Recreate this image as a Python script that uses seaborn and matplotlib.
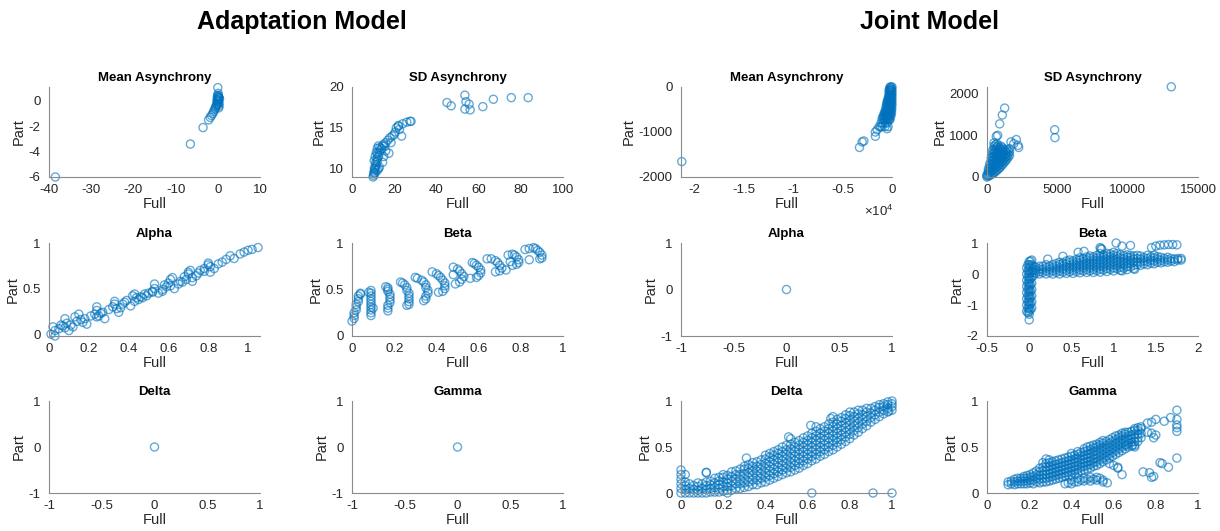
import numpy as np
import pandas as pd
import matplotlib
matplotlib.use("Agg")
import matplotlib.pyplot as plt
from matplotlib.ticker import FuncFormatter
import seaborn as sns

# ---------------- data ----------------
mean_async_adapt = [(-38.5, -6.0), (-6.5, -3.4), (-3.5, -2.1), (-2.2, -1.5), (-1.8, -1.3),
                    (-1.5, -1.15), (-1.2, -1.0), (-1.0, -0.85), (-0.8, -0.7), (-0.6, -0.6),
                    (-0.5, -0.5), (-0.4, -0.4), (-0.3, -0.3), (-0.2, -0.2), (-0.1, 0.0),
                    (0.0, 0.1), (0.1, 0.2), (0.2, 0.3), (0.3, 0.25), (0.4, 0.15), (0.0, 1.05),
                    (0.1, 0.6), (-0.1, 0.35), (0.2, 0.0), (0.3, -0.2), (0.0, -0.3), (0.1, 0.4),
                    (0.2, 0.3), (-0.2, 0.1), (0.3, -0.4), (0.0, 0.45), (0.1, -0.1), (0.2, -0.55)]

sd_async_adapt = [(10, 9.0), (10.2, 9.2), (10.5, 9.4), (10.3, 9.6), (10.8, 9.8), (11, 10), (10.6, 10.1),
                  (11.2, 10.3), (11.5, 10.5), (11.3, 10.8), (12, 10.9), (11.8, 11.2), (12.3, 11.4),
                  (12.6, 11.6), (12, 11.9), (13, 12), (13.5, 12.3), (14, 12.5), (13.2, 12.6),
                  (14.5, 12.8), (15, 13), (16, 13.2), (17, 13.5), (18, 13.8), (19, 14), (20, 14.2),
                  (21, 15), (22, 15.2), (22.5, 14.8), (23.5, 14), (24, 15.5), (26, 15.7), (27.5, 15.8),
                  (28, 15.8), (17.5, 11.9), (15, 11.5), (14.5, 10.8), (13, 10.2), (12.5, 10.0),
                  (11, 9.5), (12, 9.8), (16, 12.2), (18.5, 13.2), (15.5, 12.8), (10.5, 11),
                  (11, 11.5), (11.5, 12), (12, 12.5), (12.5, 12.8), (20.5, 14.5), (22, 15.3),
                  (45, 18.1), (47, 17.7), (53.5, 19), (54, 18.2), (53.5, 17.3), (55.5, 17.9),
                  (56, 17.2), (62, 17.6), (67, 18.5), (75.5, 18.7), (83.5, 18.7)]

alpha_adapt = [(0.01, 0.00), (0.02, 0.08), (0.03, -0.02), (0.03, 0.04), (0.05, 0.06), (0.07, 0.09),
               (0.08, 0.17), (0.08, 0.07), (0.09, 0.12), (0.10, 0.04), (0.11, 0.10), (0.12, 0.08),
               (0.13, 0.19), (0.14, 0.14), (0.15, 0.22), (0.17, 0.13), (0.18, 0.17), (0.19, 0.11),
               (0.21, 0.20), (0.23, 0.22), (0.24, 0.30), (0.24, 0.26), (0.24, 0.19), (0.25, 0.20),
               (0.27, 0.24), (0.28, 0.17), (0.30, 0.27), (0.32, 0.30), (0.33, 0.36), (0.33, 0.33),
               (0.34, 0.28), (0.35, 0.24), (0.36, 0.29), (0.37, 0.33), (0.39, 0.37), (0.41, 0.31),
               (0.42, 0.42), (0.43, 0.44), (0.43, 0.36), (0.44, 0.40), (0.45, 0.38), (0.46, 0.41),
               (0.47, 0.40), (0.49, 0.42), (0.50, 0.45), (0.52, 0.47), (0.52, 0.46), (0.53, 0.55),
               (0.53, 0.50), (0.55, 0.45), (0.57, 0.49), (0.57, 0.47), (0.59, 0.52), (0.60, 0.56),
               (0.61, 0.60), (0.61, 0.53), (0.62, 0.62), (0.63, 0.50), (0.65, 0.55), (0.66, 0.58),
               (0.67, 0.57), (0.69, 0.60), (0.70, 0.68), (0.70, 0.66), (0.71, 0.70), (0.72, 0.62),
               (0.72, 0.58), (0.74, 0.64), (0.75, 0.67), (0.76, 0.70), (0.78, 0.72), (0.80, 0.78),
               (0.80, 0.76), (0.81, 0.74), (0.81, 0.68), (0.83, 0.72), (0.85, 0.77), (0.87, 0.79),
               (0.89, 0.82), (0.91, 0.86), (0.93, 0.83), (0.96, 0.88), (0.98, 0.90), (1.00, 0.92),
               (1.02, 0.93), (1.05, 0.95), (0.06, 0.10), (0.16, 0.16), (0.26, 0.23), (0.38, 0.35),
               (0.48, 0.44), (0.58, 0.54), (0.68, 0.63), (0.78, 0.69)]

beta_adapt = [(0.00, 0.16), (0.01, 0.19), (0.01, 0.22), (0.01, 0.25), (0.02, 0.28), (0.02, 0.31),
              (0.02, 0.34), (0.03, 0.37), (0.03, 0.40), (0.03, 0.43), (0.04, 0.45), (0.04, 0.46),
              (0.09, 0.22), (0.09, 0.25), (0.09, 0.28), (0.09, 0.31), (0.09, 0.34), (0.09, 0.37),
              (0.09, 0.40), (0.09, 0.43), (0.09, 0.46), (0.09, 0.49), (0.08, 0.47), (0.10, 0.30),
              (0.17, 0.27), (0.17, 0.30), (0.17, 0.33), (0.18, 0.36), (0.18, 0.39), (0.18, 0.42),
              (0.18, 0.45), (0.17, 0.48), (0.17, 0.50), (0.16, 0.53), (0.17, 0.52),
              (0.23, 0.58), (0.24, 0.57), (0.25, 0.55), (0.26, 0.52), (0.26, 0.49), (0.27, 0.46),
              (0.27, 0.43), (0.27, 0.40), (0.27, 0.37), (0.27, 0.34), (0.26, 0.33),
              (0.30, 0.63), (0.31, 0.62), (0.33, 0.60), (0.34, 0.58), (0.35, 0.55), (0.35, 0.52),
              (0.36, 0.49), (0.36, 0.46), (0.35, 0.43), (0.35, 0.40), (0.34, 0.38),
              (0.38, 0.69), (0.40, 0.67), (0.41, 0.65), (0.42, 0.63), (0.43, 0.60), (0.44, 0.57),
              (0.44, 0.54), (0.44, 0.51), (0.43, 0.48), (0.41, 0.47),
              (0.48, 0.74), (0.50, 0.72), (0.51, 0.70), (0.52, 0.67), (0.53, 0.64), (0.52, 0.61),
              (0.51, 0.58), (0.49, 0.56), (0.48, 0.66),
              (0.57, 0.79), (0.58, 0.78), (0.59, 0.76), (0.60, 0.74), (0.61, 0.71), (0.61, 0.68),
              (0.60, 0.65), (0.59, 0.63), (0.56, 0.62),
              (0.64, 0.83), (0.66, 0.83), (0.68, 0.81), (0.69, 0.79), (0.70, 0.76), (0.71, 0.73),
              (0.70, 0.70), (0.68, 0.69),
              (0.74, 0.87), (0.76, 0.88), (0.77, 0.87), (0.78, 0.85), (0.79, 0.82), (0.79, 0.79),
              (0.78, 0.77), (0.76, 0.76), (0.73, 0.71), (0.75, 0.80),
              (0.82, 0.93), (0.84, 0.94), (0.86, 0.95), (0.87, 0.94), (0.88, 0.92), (0.89, 0.90),
              (0.90, 0.87), (0.90, 0.84), (0.89, 0.83), (0.84, 0.82)]

delta_adapt = [(0.0, 0.0)]
gamma_adapt = [(0.0, 0.0)]

# Joint model: dense clouds given as (Part level, [Full values]) or (Full, [Part values]) columns
mean_async_joint_rows = [(0, [0, -100, -200]), (-40, [-50, -150, -250]),
                         (-80, [0, -100, -200, -300]), (-120, [-50, -150, -250]),
                         (-160, [0, -100, -200, -300]), (-200, [-60, -180, -300]),
                         (-240, [0, -120, -240, -360]), (-280, [-60, -190, -320, -420]),
                         (-320, [0, -130, -260, -390, -480]), (-360, [-70, -210, -350, -500]),
                         (-400, [0, -150, -300, -450, -560]), (-440, [-80, -230, -380, -550]),
                         (-480, [-20, -170, -320, -470, -640]), (-520, [-100, -260, -420, -580]),
                         (-560, [-50, -200, -350, -500, -650, -760]),
                         (-600, [-120, -280, -450, -620, -780]),
                         (-640, [-100, -250, -400, -550, -700, -880]),
                         (-680, [-280, -450, -620, -800, -950]),
                         (-720, [-200, -350, -500, -650, -800, -1000]),
                         (-800, [-500, -700, -900, -1100]), (-880, [-400, -700, -1000])]
mean_async_joint_sparse = [(-1300, -880), (-1500, -950), (-1680, -1000), (-1680, -1095),
                           (-2850, -1200), (-3020, -1220), (-3290, -1343), (-21270, -1657),
                           (-500, -927), (-270, -730), (-1170, -890)]

sd_async_joint_cols = [(0, [0, 30, 60]), (100, [20, 80, 140, 200]), (200, [40, 110, 180, 250, 320]),
                       (300, [60, 140, 220, 300, 380, 460]),
                       (400, [80, 160, 240, 320, 400, 480, 560, 640]),
                       (500, [100, 180, 260, 340, 420, 500, 580, 660, 740, 820]),
                       (600, [130, 210, 290, 370, 450, 530, 610, 690, 770]),
                       (700, [160, 240, 320, 400, 480, 560, 640, 720, 800]),
                       (800, [190, 270, 350, 430, 510, 590, 670, 750]),
                       (900, [220, 300, 380, 460, 540, 620, 700]),
                       (1000, [260, 340, 420, 500, 580, 660, 740]),
                       (1100, [300, 380, 460, 540, 620, 700]), (1200, [340, 420, 500, 580, 660]),
                       (1300, [380, 460, 540, 620]), (1400, [420, 500, 580, 660]),
                       (1500, [470, 550, 630]), (1600, [520, 600, 680])]
sd_async_joint_sparse = [(1256, 1654), (1090, 1488), (900, 1275), (758, 1000), (663, 976),
                         (2085, 898), (2251, 709), (1706, 843), (1900, 800), (2200, 760),
                         (4810, 1134), (4830, 945), (13100, 2165)]

alpha_joint = [(0.0, 0.0)]

beta_joint_cols = [(-0.03, [-1.2, -1.0, -0.8, -0.6, -0.4, -0.2, 0.0, 0.2]),
                   (-0.015, [-1.25, -1.1, -0.9, -0.7, -0.5, -0.3, -0.1, 0.1, 0.3]),
                   (0.0, [-1.48, -1.3, -1.2, -1.1, -1.0, -0.9, -0.8, -0.7, -0.6, -0.5, -0.4, -0.3,
                          -0.2, -0.1, 0.0, 0.1, 0.2, 0.3, 0.4]),
                   (0.015, [-1.15, -0.95, -0.75, -0.55, -0.35, -0.15, 0.05, 0.25, 0.42]),
                   (0.03, [-1.1, -0.9, -0.7, -0.5, -0.3, -0.1, 0.1, 0.3, 0.45]),
                   (0.05, [-0.05, 0.05, 0.15, 0.25]), (0.08, [0.03, 0.12, 0.21]),
                   (0.12, [0.0, 0.08, 0.16, 0.25]), (0.16, [0.05, 0.15, 0.25]),
                   (0.2, [0.0, 0.1, 0.2, 0.3]), (0.24, [0.05, 0.15, 0.25]),
                   (0.28, [0.0, 0.1, 0.2, 0.3]), (0.32, [0.05, 0.15, 0.25, 0.34]),
                   (0.36, [0.0, 0.1, 0.2, 0.3, 0.38]), (0.40, [0.06, 0.16, 0.26, 0.36]),
                   (0.44, [0.02, 0.12, 0.22, 0.32, 0.42]), (0.48, [0.07, 0.17, 0.27, 0.37, 0.45]),
                   (0.52, [0.02, 0.12, 0.22, 0.32, 0.42]), (0.56, [0.08, 0.18, 0.28, 0.38, 0.47]),
                   (0.6, [0.04, 0.14, 0.24, 0.34, 0.44, 0.52]), (0.64, [0.1, 0.2, 0.3, 0.4, 0.5]),
                   (0.68, [0.05, 0.15, 0.25, 0.35, 0.45, 0.55]),
                   (0.72, [0.1, 0.2, 0.3, 0.4, 0.5, 0.58]),
                   (0.76, [0.05, 0.15, 0.25, 0.35, 0.45, 0.55]),
                   (0.80, [0.11, 0.21, 0.31, 0.41, 0.51, 0.6]),
                   (0.84, [0.06, 0.16, 0.26, 0.36, 0.46, 0.56, 0.66]),
                   (0.88, [0.13, 0.23, 0.33, 0.43, 0.53, 0.62]),
                   (0.92, [0.08, 0.18, 0.28, 0.38, 0.48, 0.58, 0.66]),
                   (0.96, [0.15, 0.25, 0.35, 0.45, 0.55, 0.65]),
                   (1.0, [0.1, 0.2, 0.3, 0.4, 0.5, 0.6, 0.7]),
                   (1.04, [0.17, 0.27, 0.37, 0.47, 0.57, 0.66]),
                   (1.08, [0.12, 0.22, 0.32, 0.42, 0.52, 0.62]),
                   (1.12, [0.19, 0.29, 0.39, 0.49, 0.59]),
                   (1.16, [0.14, 0.24, 0.34, 0.44, 0.54, 0.62]),
                   (1.20, [0.23, 0.33, 0.43, 0.53, 0.6]),
                   (1.24, [0.18, 0.28, 0.38, 0.48, 0.58]), (1.28, [0.3, 0.4, 0.5, 0.6]),
                   (1.32, [0.28, 0.38, 0.48, 0.58]), (1.36, [0.33, 0.43, 0.53]),
                   (1.4, [0.3, 0.4, 0.5, 0.6]), (1.44, [0.35, 0.45, 0.55]),
                   (1.48, [0.33, 0.42, 0.52, 0.6]), (1.52, [0.38, 0.48, 0.56]),
                   (1.56, [0.36, 0.44, 0.54]), (1.60, [0.4, 0.5]), (1.64, [0.38, 0.46, 0.54]),
                   (1.68, [0.42, 0.5]), (1.72, [0.4, 0.48]), (1.76, [0.45, 0.5]),
                   (1.8, [0.45, 0.5])]
beta_joint_sparse = [(0.22, 0.48), (0.4, 0.57), (0.58, 0.7), (0.65, 0.73), (0.84, 0.85), (0.86, 0.8),
                     (0.85, 0.82), (1.03, 1.0), (1.1, 0.9), (1.2, 0.92), (1.45, 0.85), (1.5, 0.9),
                     (1.55, 0.93), (1.6, 0.94), (1.65, 0.95), (1.7, 0.95), (1.75, 0.94),
                     (1.25, 0.15), (1.1, 0.1)]

delta_joint_cols = [(0.00, [0.0, 0.05, 0.1, 0.15, 0.2, 0.25]), (0.02, [0.0, 0.04, 0.08, 0.12, 0.2]),
                    (0.04, [0.0, 0.05, 0.1]), (0.06, [0.0, 0.04, 0.08]),
                    (0.08, [0.0, 0.03, 0.07, 0.11]), (0.10, [0.0, 0.05, 0.1]),
                    (0.12, [0.0, 0.04, 0.08, 0.12, 0.22]), (0.14, [0.01, 0.05, 0.09, 0.13]),
                    (0.16, [0.01, 0.06, 0.11, 0.16]), (0.18, [0.01, 0.05, 0.09, 0.13, 0.17]),
                    (0.20, [0.02, 0.07, 0.12, 0.17, 0.2]), (0.22, [0.03, 0.07, 0.11, 0.15, 0.19]),
                    (0.24, [0.03, 0.08, 0.13, 0.18, 0.23]), (0.26, [0.05, 0.1, 0.15, 0.2, 0.24]),
                    (0.28, [0.05, 0.1, 0.15, 0.2, 0.26]),
                    (0.30, [0.06, 0.11, 0.16, 0.21, 0.26, 0.29]),
                    (0.32, [0.07, 0.12, 0.17, 0.22, 0.27, 0.31]),
                    (0.34, [0.09, 0.14, 0.19, 0.24, 0.29, 0.33]),
                    (0.36, [0.09, 0.14, 0.19, 0.24, 0.29, 0.34]),
                    (0.38, [0.11, 0.16, 0.21, 0.26, 0.31, 0.36]),
                    (0.40, [0.12, 0.17, 0.22, 0.27, 0.32, 0.37, 0.41]),
                    (0.42, [0.14, 0.19, 0.24, 0.29, 0.34, 0.39, 0.43]),
                    (0.44, [0.16, 0.21, 0.26, 0.31, 0.36, 0.41, 0.45]),
                    (0.46, [0.18, 0.23, 0.28, 0.33, 0.38, 0.43, 0.47]),
                    (0.48, [0.2, 0.25, 0.3, 0.35, 0.4, 0.45, 0.5]),
                    (0.50, [0.22, 0.27, 0.32, 0.37, 0.42, 0.47, 0.52]),
                    (0.52, [0.23, 0.28, 0.33, 0.38, 0.43, 0.48, 0.53, 0.59]),
                    (0.54, [0.25, 0.3, 0.35, 0.4, 0.45, 0.5, 0.55]),
                    (0.56, [0.27, 0.32, 0.37, 0.42, 0.47, 0.52, 0.57]),
                    (0.58, [0.3, 0.35, 0.4, 0.45, 0.5, 0.55, 0.6]),
                    (0.60, [0.32, 0.37, 0.42, 0.47, 0.52, 0.57, 0.62]),
                    (0.62, [0.35, 0.4, 0.45, 0.5, 0.55, 0.6, 0.65]),
                    (0.64, [0.37, 0.42, 0.47, 0.52, 0.57, 0.62, 0.67, 0.72]),
                    (0.66, [0.4, 0.45, 0.5, 0.55, 0.6, 0.65, 0.7]),
                    (0.68, [0.42, 0.47, 0.52, 0.57, 0.62, 0.67, 0.72]),
                    (0.70, [0.45, 0.5, 0.55, 0.6, 0.65, 0.7, 0.75]),
                    (0.72, [0.47, 0.52, 0.57, 0.62, 0.67, 0.72, 0.77]),
                    (0.74, [0.5, 0.55, 0.6, 0.65, 0.7, 0.75, 0.8]),
                    (0.76, [0.53, 0.58, 0.63, 0.68, 0.73, 0.78, 0.82]),
                    (0.78, [0.56, 0.61, 0.66, 0.71, 0.76, 0.81, 0.85]),
                    (0.80, [0.59, 0.64, 0.69, 0.74, 0.79, 0.84, 0.88]),
                    (0.82, [0.63, 0.68, 0.73, 0.78, 0.83, 0.88]),
                    (0.84, [0.66, 0.71, 0.76, 0.81, 0.86, 0.9]),
                    (0.86, [0.7, 0.75, 0.8, 0.85, 0.9]),
                    (0.88, [0.73, 0.78, 0.83, 0.88, 0.92]), (0.90, [0.77, 0.82, 0.87, 0.92]),
                    (0.92, [0.8, 0.85, 0.9, 0.94]), (0.94, [0.83, 0.88, 0.93, 0.96]),
                    (0.96, [0.86, 0.9, 0.94, 0.97]), (0.98, [0.88, 0.92, 0.96, 0.99]),
                    (1.00, [0.9, 0.94, 0.97, 1.0])]
delta_joint_sparse = [(0.22, 0.0), (0.62, 0.0), (0.91, 0.0), (1.0, 0.0), (0.12, 0.225), (0.31, 0.38),
                      (0.51, 0.61), (0.615, 0.735), (0.71, 0.81), (0.72, 0.83), (0.985, 0.89)]

gamma_joint_cols = [(0.10, [0.09, 0.12]), (0.115, [0.1, 0.13]), (0.13, [0.09, 0.12, 0.15]),
                    (0.145, [0.1, 0.13, 0.16]), (0.16, [0.1, 0.13, 0.16]),
                    (0.175, [0.1, 0.13, 0.16, 0.18]), (0.19, [0.1, 0.13, 0.16, 0.19]),
                    (0.205, [0.11, 0.14, 0.17, 0.2]), (0.22, [0.1, 0.14, 0.18, 0.22]),
                    (0.235, [0.12, 0.16, 0.2, 0.24]), (0.25, [0.11, 0.15, 0.19, 0.23, 0.27]),
                    (0.265, [0.12, 0.16, 0.2, 0.24, 0.28, 0.33]),
                    (0.28, [0.12, 0.16, 0.2, 0.24, 0.28, 0.32, 0.37]),
                    (0.295, [0.13, 0.17, 0.21, 0.25, 0.29, 0.33, 0.36]),
                    (0.31, [0.14, 0.18, 0.22, 0.26, 0.3, 0.34]),
                    (0.325, [0.15, 0.19, 0.23, 0.27, 0.31, 0.35]),
                    (0.34, [0.16, 0.2, 0.24, 0.28, 0.32, 0.36]),
                    (0.355, [0.17, 0.21, 0.25, 0.29, 0.33, 0.37]),
                    (0.37, [0.18, 0.22, 0.26, 0.3, 0.34, 0.38, 0.1]),
                    (0.385, [0.19, 0.23, 0.27, 0.31, 0.35, 0.39, 0.11]),
                    (0.40, [0.2, 0.24, 0.28, 0.32, 0.36, 0.4, 0.43, 0.1, 0.14]),
                    (0.415, [0.21, 0.25, 0.29, 0.33, 0.37, 0.41, 0.12]),
                    (0.43, [0.22, 0.26, 0.3, 0.34, 0.38, 0.42, 0.45, 0.12, 0.16]),
                    (0.445, [0.24, 0.28, 0.32, 0.36, 0.4, 0.44, 0.14]),
                    (0.46, [0.25, 0.29, 0.33, 0.37, 0.41, 0.45, 0.48, 0.13, 0.16]),
                    (0.475, [0.26, 0.3, 0.34, 0.38, 0.42, 0.46, 0.5, 0.15]),
                    (0.49, [0.27, 0.31, 0.35, 0.39, 0.43, 0.47, 0.51, 0.13, 0.17]),
                    (0.505, [0.29, 0.33, 0.37, 0.41, 0.45, 0.49, 0.52, 0.15]),
                    (0.52, [0.3, 0.34, 0.38, 0.42, 0.46, 0.5, 0.53, 0.14, 0.17]),
                    (0.535, [0.32, 0.36, 0.4, 0.44, 0.48, 0.52, 0.55, 0.16]),
                    (0.55, [0.34, 0.38, 0.42, 0.46, 0.5, 0.54, 0.57, 0.14, 0.12]),
                    (0.565, [0.36, 0.4, 0.44, 0.48, 0.52, 0.56]),
                    (0.58, [0.38, 0.42, 0.46, 0.5, 0.54, 0.58]),
                    (0.595, [0.4, 0.44, 0.48, 0.52, 0.56, 0.6]),
                    (0.61, [0.42, 0.46, 0.5, 0.54, 0.58, 0.62]),
                    (0.625, [0.44, 0.48, 0.52, 0.56, 0.6, 0.63]),
                    (0.64, [0.46, 0.5, 0.54, 0.58, 0.62, 0.65]),
                    (0.655, [0.48, 0.52, 0.56, 0.6, 0.64, 0.66]),
                    (0.67, [0.5, 0.54, 0.58, 0.62, 0.66]), (0.685, [0.51, 0.55, 0.59, 0.63, 0.67]),
                    (0.70, [0.52, 0.56, 0.6, 0.64, 0.68, 0.7]),
                    (0.715, [0.56, 0.6, 0.64, 0.68, 0.71]), (0.73, [0.6, 0.65, 0.7, 0.72])]
gamma_joint_sparse = [(0.76, 0.76), (0.78, 0.77), (0.8, 0.8), (0.84, 0.78), (0.87, 0.82), (0.9, 0.9),
                      (0.9, 0.8), (0.9, 0.74), (0.9, 0.71), (0.9, 0.67), (0.9, 0.38), (0.78, 0.65),
                      (0.79, 0.6), (0.8, 0.63), (0.76, 0.66), (0.82, 0.33), (0.83, 0.32),
                      (0.86, 0.28), (0.74, 0.23), (0.79, 0.18), (0.78, 0.17), (0.77, 0.22),
                      (0.7, 0.5), (0.69, 0.52), (0.66, 0.52), (0.6, 0.3), (0.62, 0.28),
                      (0.58, 0.32), (0.64, 0.2), (0.57, 0.11), (0.62, 0.27)]

group_titles = ["Adaptation Model", "Joint Model"]
panel_titles = ["Mean Asynchrony", "SD Asynchrony", "Alpha", "Beta", "Delta", "Gamma"]


# ---------------- helpers ----------------
def from_cols(cols, sparse=()):
    pts = [(x, y) for x, ys in cols for y in ys] + list(sparse)
    return pd.DataFrame(pts, columns=["Full", "Part"])


def from_rows(rows, sparse=()):
    pts = [(x, y) for y, xs in rows for x in xs] + list(sparse)
    return pd.DataFrame(pts, columns=["Full", "Part"])


def df_of(pts):
    return pd.DataFrame(pts, columns=["Full", "Part"])


sns.set_theme(style="white")
plt.rcParams["font.family"] = ["Liberation Sans", "DejaVu Sans"]
plt.rcParams["axes.unicode_minus"] = False
plt.rcParams["mathtext.fontset"] = "custom"
plt.rcParams["mathtext.rm"] = "Liberation Sans"

BLUE = "#0072BD"
SPINE = "#8a8a8a"
TXT = "#262626"

fig = plt.figure(figsize=(12.2, 5.31), dpi=100)
W, H = 1220.0, 531.0
col_left = [49, 352, 681, 987]
col_w = 211
rows_px = [(87, 177), (243, 336), (401, 493)]

gfmt = FuncFormatter(lambda v, p: "%g" % round(v, 6))

panels = [
    # (row, col, title, df, xlim, ylim, xticks, yticks)
    (0, 0, panel_titles[0], df_of(mean_async_adapt), (-40, 10), (-6, 1.1),
     [-40, -30, -20, -10, 0, 10], [-6, -4, -2, 0]),
    (0, 1, panel_titles[1], df_of(sd_async_adapt), (0, 100), (9, 20),
     [0, 20, 40, 60, 80, 100], [10, 15, 20]),
    (1, 0, panel_titles[2], df_of(alpha_adapt), (0, 1.06), (-0.02, 1),
     [0, 0.2, 0.4, 0.6, 0.8, 1], [0, 0.5, 1]),
    (1, 1, panel_titles[3], df_of(beta_adapt), (0, 1), (0, 1),
     [0, 0.2, 0.4, 0.6, 0.8, 1], [0, 0.5, 1]),
    (2, 0, panel_titles[4], df_of(delta_adapt), (-1, 1), (-1, 1),
     [-1, -0.5, 0, 0.5, 1], [-1, 0, 1]),
    (2, 1, panel_titles[5], df_of(gamma_adapt), (-1, 1), (-1, 1),
     [-1, -0.5, 0, 0.5, 1], [-1, 0, 1]),
    (0, 2, panel_titles[0], from_rows(mean_async_joint_rows, mean_async_joint_sparse),
     (-21350, 0), (-2000, 0), [-20000, -15000, -10000, -5000, 0], [-2000, -1000, 0]),
    (0, 3, panel_titles[1], from_cols(sd_async_joint_cols, sd_async_joint_sparse),
     (0, 15000), (0, 2160), [0, 5000, 10000, 15000], [0, 1000, 2000]),
    (1, 2, panel_titles[2], df_of(alpha_joint), (-1, 1), (-1, 1),
     [-1, -0.5, 0, 0.5, 1], [-1, 0, 1]),
    (1, 3, panel_titles[3], from_cols(beta_joint_cols, beta_joint_sparse), (-0.5, 2), (-2, 1),
     [-0.5, 0, 0.5, 1, 1.5, 2], [-2, -1, 0, 1]),
    (2, 2, panel_titles[4], from_cols(delta_joint_cols, delta_joint_sparse), (0, 1), (0, 1),
     [0, 0.2, 0.4, 0.6, 0.8, 1], [0, 0.5, 1]),
    (2, 3, panel_titles[5], from_cols(gamma_joint_cols, gamma_joint_sparse), (0, 1), (0, 1),
     [0, 0.2, 0.4, 0.6, 0.8, 1], [0, 0.5, 1]),
]

for r, c, title, df, xl, yl, xt, yt in panels:
    top, bot = rows_px[r]
    ax = fig.add_axes([col_left[c] / W, 1 - bot / H, col_w / W, (bot - top) / H])
    sns.scatterplot(data=df, x="Full", y="Part", ax=ax, marker="o", s=34,
                    color=BLUE, facecolor="none", edgecolor=BLUE, linewidth=1.0,
                    alpha=0.6, clip_on=False, legend=False)
    ax.set_xlim(*xl)
    ax.set_ylim(*yl)
    ax.set_xticks(xt)
    ax.set_yticks(yt)
    if c == 2 and r == 0:
        ax.xaxis.set_major_formatter(FuncFormatter(lambda v, p: "%g" % round(v / 1e4, 6)))
        ax.annotate(r"$\times10^{4}$", xy=(1, 0), xycoords="axes fraction",
                    xytext=(1, -19), textcoords="offset points", ha="right", va="top",
                    fontsize=9.5, color=TXT)
    else:
        ax.xaxis.set_major_formatter(gfmt)
    ax.yaxis.set_major_formatter(gfmt)
    for s in ["top", "right"]:
        ax.spines[s].set_visible(False)
    for s in ["left", "bottom"]:
        ax.spines[s].set_color(SPINE)
        ax.spines[s].set_linewidth(0.8)
    ax.tick_params(axis="both", direction="in", length=3, width=0.7, color=SPINE,
                   labelsize=9.5, labelcolor=TXT)
    ax.tick_params(axis="x", pad=5)
    ax.tick_params(axis="y", pad=6)
    ax.set_xlabel("Full", fontsize=10.5, color=TXT, labelpad=1)
    ax.set_ylabel("Part", fontsize=10.5, color=TXT, labelpad=2)
    ax.set_title(title, fontsize=9.5, fontweight="bold", color="black", pad=4)
    ax.set_facecolor("none")

fig.text(302 / W, 1 - 22 / H, group_titles[0], ha="center", va="center",
         fontsize=18, fontweight="bold", color="black")
fig.text(929 / W, 1 - 22 / H, group_titles[1], ha="center", va="center",
         fontsize=18, fontweight="bold", color="black")

fig.savefig("out.png", dpi=100, facecolor="white")
